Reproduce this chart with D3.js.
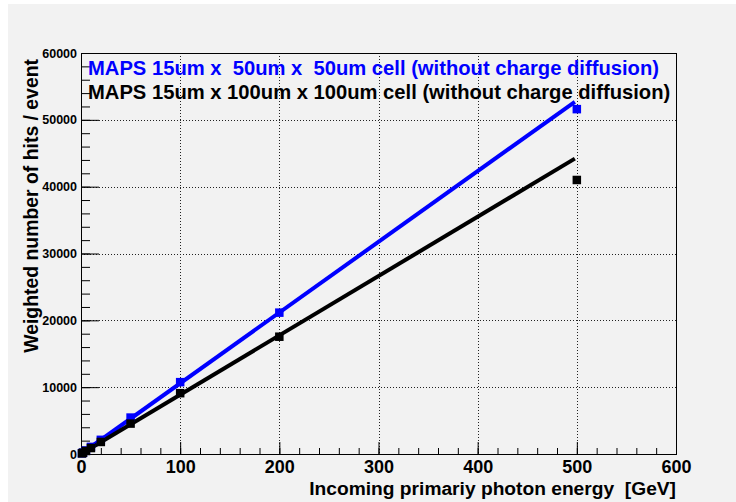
<!DOCTYPE html>
<html>
<head>
<meta charset="utf-8">
<script src="https://cdn.jsdelivr.net/npm/d3@7"></script>
<style>
    html, body { margin: 0; padding: 0; background: #ffffff; }
    svg { display: block; font-family: 'Liberation Sans', Arial, sans-serif; font-weight: bold; }
    svg text { white-space: pre; }
</style>
</head>
<body>
<svg id="chart" width="736" height="502"></svg>
<script>
// beam energies of the simulated points [GeV]
const energies = [1, 2, 5, 10, 20, 50, 100, 200, 500];
// weighted hits / event
const hits50um = [105, 210, 530, 1060, 2120, 5450, 10750, 21150, 51600];
const hits100um = [90, 180, 450, 890, 1800, 4550, 9100, 17550, 41000];

// straight fit lines, start and end points
const fitEnergies = [0, 498];
const fit50um = [0, 52700];
const fit100um = [0, 44200];

const legendLabels = [
    'MAPS 15um x  50um x  50um cell (without charge diffusion)',
    'MAPS 15um x 100um x 100um cell (without charge diffusion)'
];
const xTicks = [0, 100, 200, 300, 400, 500, 600];
const yTicks = [0, 10000, 20000, 30000, 40000, 50000, 60000];

const width = 736;
const height = 502;
const frame = { left: 81, right: 676, top: 53, bottom: 454 };

const svg = d3.select('#chart');

// pad background
svg.append('rect')
    .attr('x', 8).attr('y', 4)
    .attr('width', width - 8).attr('height', height - 4)
    .attr('fill', '#f2f2f2');

const xScale = d3.scaleLinear().domain([0, 600]).range([frame.left, frame.right]);
const yScale = d3.scaleLinear().domain([0, 60000]).range([frame.bottom, frame.top]);

// dotted grid
const grid = svg.append('g')
    .attr('stroke', '#222')
    .attr('stroke-width', 1)
    .attr('stroke-dasharray', '1,2');
xTicks.slice(1, -1).forEach((d) => {
    grid.append('line')
        .attr('x1', Math.round(xScale(d)) + 0.5).attr('x2', Math.round(xScale(d)) + 0.5)
        .attr('y1', frame.top).attr('y2', frame.bottom);
});
yTicks.slice(1, -1).forEach((d) => {
    grid.append('line')
        .attr('x1', frame.left).attr('x2', frame.right)
        .attr('y1', Math.round(yScale(d)) + 0.5).attr('y2', Math.round(yScale(d)) + 0.5);
});

// axes, root style: ticks pointing inside
const xMinor = d3.range(0, 601, 20);
const yMinor = d3.range(0, 60001, 2000);

const xAxisMinor = svg.append('g')
    .attr('transform', `translate(0,${frame.bottom})`)
    .call(d3.axisBottom(xScale).tickValues(xMinor).tickSize(-6).tickSizeOuter(0).tickFormat(''));
const xAxis = svg.append('g')
    .attr('transform', `translate(0,${frame.bottom})`)
    .call(d3.axisBottom(xScale).tickValues(xTicks).tickSize(-12).tickSizeOuter(0).tickPadding(6));
const yAxisMinor = svg.append('g')
    .attr('transform', `translate(${frame.left},0)`)
    .call(d3.axisLeft(yScale).tickValues(yMinor).tickSize(-9).tickSizeOuter(0).tickFormat(''));
const yAxis = svg.append('g')
    .attr('transform', `translate(${frame.left},0)`)
    .call(d3.axisLeft(yScale).tickValues(yTicks).tickSize(-18).tickSizeOuter(0).tickPadding(4)
        .tickFormat(d3.format('d')));

[xAxisMinor, xAxis, yAxisMinor, yAxis].forEach((g) => {
    g.selectAll('.domain').remove();
    g.selectAll('line').attr('stroke', '#000');
    g.selectAll('text').attr('fill', '#000').attr('font-family', null);
});
xAxis.selectAll('text').attr('font-size', 18);
yAxis.selectAll('text').attr('font-size', 12.5);

// frame
svg.append('rect')
    .attr('x', frame.left + 0.5).attr('y', frame.top + 0.5)
    .attr('width', frame.right - frame.left).attr('height', frame.bottom - frame.top)
    .attr('fill', 'none')
    .attr('stroke', '#000');

// axis titles
svg.append('text')
    .attr('x', frame.right).attr('y', 494.5)
    .attr('text-anchor', 'end')
    .attr('font-size', 19.2)
    .text('Incoming primariy photon energy  [GeV]');
svg.append('text')
    .attr('transform', `translate(38,${frame.top + 6}) rotate(-90)`)
    .attr('text-anchor', 'end')
    .attr('font-size', 19.4)
    .text('Weighted number of hits / event');

// series
const series = [
    { values: hits50um, fit: fit50um, color: '#0000ff' },
    { values: hits100um, fit: fit100um, color: '#000000' }
];

const line = d3.line()
    .x((d) => xScale(d[0]))
    .y((d) => yScale(d[1]));

series.forEach((s) => {
    svg.append('path')
        .datum(d3.zip(fitEnergies, s.fit))
        .attr('d', line)
        .attr('fill', 'none')
        .attr('stroke', s.color)
        .attr('stroke-width', 4);
});

const markerSize = 8.5;
series.forEach((s) => {
    svg.append('g')
        .selectAll('rect')
        .data(d3.zip(energies, s.values))
        .join('rect')
        .attr('x', (d) => xScale(d[0]) - markerSize / 2)
        .attr('y', (d) => yScale(d[1]) - markerSize / 2)
        .attr('width', markerSize)
        .attr('height', markerSize)
        .attr('fill', s.color);
});

// legend
legendLabels.forEach((label, i) => {
    svg.append('text')
        .attr('x', 88).attr('y', 75 + i * 24)
        .attr('font-size', 20.2)
        .attr('fill', series[i].color)
        .text(label);
});
</script>
</body>
</html>
